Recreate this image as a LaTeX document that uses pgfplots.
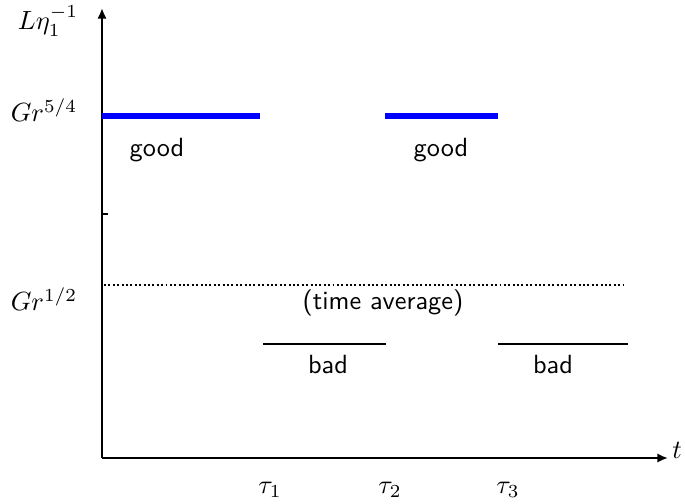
\documentclass[border=0pt]{standalone}
\usepackage{pgfplots}
\pgfplotsset{compat=1.18}
\usetikzlibrary{arrows.meta}
\tikzset{lab/.style={inner sep=0pt}}
\begin{document}
\begin{tikzpicture}
\begin{axis}[
  x=0.38pt, y=0.38pt,
  xmin=102, xmax=668, ymin=45, ymax=495,
  axis lines=left,
  axis line style={line width=1.05pt, -{Latex[length=4pt,width=3.5pt]}},
  xtick=\empty,
  ytick={289}, yticklabels={},
  tick align=inside, major tick length=2.3pt,
  tick style={line width=1pt, black},
  clip=false,
]
  % invisible frame that sets the page size
  \path (axis cs:0,0) rectangle (axis cs:685,503);

  % good phases
  \addplot[blue, line width=2.2pt] coordinates {(102,387) (260,387)};
  \addplot[blue, line width=2.2pt] coordinates {(385,387) (498,387)};
  % time average
  \addplot[black, line width=0.75pt, dash pattern=on 0.75pt off 0.92pt] coordinates {(104,218) (623,218)};
  % bad phases
  \addplot[black, line width=0.8pt] coordinates {(263,159) (386,159)};
  \addplot[black, line width=0.8pt] coordinates {(498,159) (628,159)};

  \node[lab] at (axis cs:157,353) {\sffamily good};
  \node[lab] at (axis cs:441,353) {\sffamily good};
  \node[lab] at (axis cs:383,200) {\sffamily (time average)};
  \node[lab] at (axis cs:328,138) {\sffamily bad};
  \node[lab] at (axis cs:553,138) {\sffamily bad};

  \node[lab] at (axis cs:44,393) {$Gr^{5/4}$};
  \node[lab] at (axis cs:44,204) {$Gr^{1/2}$};
  \node[lab] at (axis cs:48,482) {$L\eta_1^{-1}$};
  \node[lab] at (axis cs:677,53) {$t$};
  \node[lab] at (axis cs:270,13) {$\tau_1$};
  \node[lab] at (axis cs:390,13) {$\tau_2$};
  \node[lab] at (axis cs:508,13) {$\tau_3$};
\end{axis}
\end{tikzpicture}
\end{document}
